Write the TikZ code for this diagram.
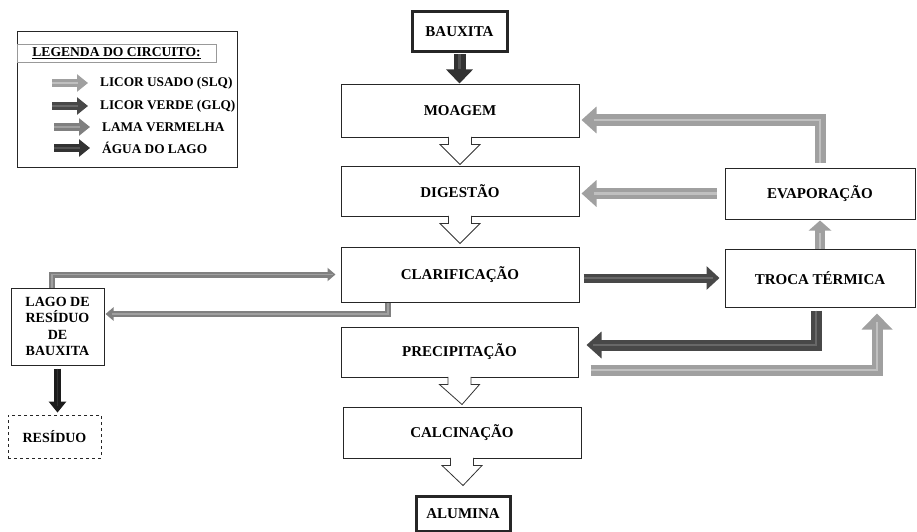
\documentclass[tikz,border=0pt]{standalone}
\usepackage{fontspec}
\setmainfont{Liberation Serif}
\usetikzlibrary{positioning,calc,arrows.meta}
\definecolor{usadoCor}{RGB}{160,160,160}
\definecolor{usadoLuz}{RGB}{192,192,192}
\definecolor{verdeCor}{RGB}{72,72,72}
\definecolor{verdeLuz}{RGB}{104,104,104}
\definecolor{lamaCor}{RGB}{128,128,128}
\definecolor{lamaLuz}{RGB}{160,160,160}
\definecolor{aguaCor}{RGB}{50,50,50}
\definecolor{aguaLuz}{RGB}{82,82,82}
\tikzset{
    caixa/.style={draw=black!85, line width=1pt, fill=white, inner sep=0pt, align=center, font=\bfseries\fontsize{15}{17}\selectfont},
    legtexto/.style={anchor=west, inner sep=0pt, font=\bfseries\fontsize{13.3}{15}\selectfont},
    tubo/.style 2 args={draw=#1, line join=miter, postaction={draw=#2, -, shorten >=1.3\pgflinewidth, line width=0.5\pgflinewidth}},
    grossa/.style={line width=11pt, -{Triangle[length=15pt,width=26pt]}},
    fina/.style={line width=6pt, -{Triangle[length=8pt,width=13pt]}},
    vazia/.style={draw=black!80, line width=0.8pt, fill=white, line join=miter}
}
\newcommand{\setavazia}[2]{%
    \draw[vazia] let \p1=(#1.south), \p2=(#2.north) in
        (\x1-11.5pt,\y1+0.6pt) -- (\x1-11.5pt,\y1-7pt) -- (\x1-20pt,\y1-7pt) -- (\x2,\y1-27pt)
        -- (\x1+20pt,\y1-7pt) -- (\x1+11.5pt,\y1-7pt) -- (\x1+11.5pt,\y1+0.6pt);
}

\begin{document}
\begin{tikzpicture}[x=1pt, y=-1pt]
    \useasboundingbox (0,0) rectangle (917,532);

    % legenda
    \node[draw=black!85, line width=1pt, minimum width=220pt, minimum height=135pt] (legenda) at (127,99.5) {};
    \node[draw=black!40, line width=0.6pt, minimum width=199pt, minimum height=18pt, inner sep=0pt,
          font=\bfseries\fontsize{13.6}{16}\selectfont] (titulo) at (116.5,53) {\underline{LEGENDA DO CIRCUITO:}};
    \node[legtexto] (l1) at (100,83) {LICOR USADO (SLQ)};
    \node[legtexto] (l2) at (100,106) {LICOR VERDE (GLQ)};
    \node[legtexto] (l3) at (102,127) {LAMA VERMELHA};
    \node[legtexto] (l4) at (102,148) {ÁGUA DO LAGO};
    \foreach \rot/\cor in {l1/usado, l2/verde, l3/lama, l4/agua}
        \draw[tubo={\cor Cor}{\cor Luz}, line width=8pt, -{Triangle[length=11pt,width=17pt]}]
            ([xshift=-48pt]\rot.west) -- ([xshift=-12pt]\rot.west);

    % processo
    \node[caixa, line width=3pt, minimum width=95pt, minimum height=40pt] (bauxita) at (459.5,32) {BAUXITA};
    \node[caixa, minimum width=238pt, minimum height=52pt] (moagem) at (460,111) {MOAGEM};
    \node[caixa, minimum width=238pt, minimum height=50pt] (digestao) at (460,191) {DIGESTÃO};
    \node[caixa, minimum width=238pt, minimum height=55pt] (clarif) at (460,274.5) {CLARIFICAÇÃO};
    \node[caixa, minimum width=237pt, minimum height=50pt] (precip) at (459.5,352) {PRECIPITAÇÃO};
    \node[caixa, minimum width=238pt, minimum height=51pt] (calcin) at (462,432.5) {CALCINAÇÃO};
    \node[caixa, line width=3pt, minimum width=94pt, minimum height=35pt] (alumina) at (463,513.5) {ALUMINA};
    \node[caixa, minimum width=190pt, minimum height=51pt] (evap) at (820,193.5) {EVAPORAÇÃO};
    \node[caixa, minimum width=190pt, minimum height=58pt] (troca) at (820,278) {TROCA TÉRMICA};
    \node[caixa, minimum width=93pt, minimum height=77pt, font=\bfseries\fontsize{14}{16.5}\selectfont] (lago) at (57.5,326.5) {LAGO DE\\RESÍDUO\\DE\\BAUXITA};
    \node[caixa, dashed, line width=0.8pt, minimum width=93pt, minimum height=43pt, font=\bfseries\fontsize{14}{16}\selectfont] (residuo) at (54.5,436.5) {RESÍDUO};

    \setavazia{moagem}{digestao}
    \setavazia{digestao}{clarif}
    \setavazia{precip}{calcin}
    \setavazia{calcin}{alumina}

    \draw[tubo={aguaCor}{aguaLuz}, line width=12pt, -{Triangle[length=14pt,width=26pt]}, shorten <=1pt, shorten >=1pt]
        (bauxita.south) -- (bauxita.south |- moagem.north);
    \draw[tubo={usadoCor}{usadoLuz}, grossa, shorten <=5pt, shorten >=2pt]
        (evap.north) |- ([yshift=-9pt]moagem.east);
    \draw[tubo={usadoCor}{usadoLuz}, grossa, shorten <=8pt, shorten >=2pt]
        (evap.west) -- (evap.west -| digestao.east);
    \draw[tubo={usadoCor}{usadoLuz}, line width=10pt, -{Triangle[length=10pt,width=22pt]}, shorten >=1pt]
        (troca.north) -- (evap.south);
    \draw[tubo={verdeCor}{verdeLuz}, line width=9pt, -{Triangle[length=13pt,width=23pt]}, shorten <=4pt, shorten >=5pt]
        (clarif.east |- troca.west) -- (troca.west);
    \draw[tubo={verdeCor}{verdeLuz}, grossa, shorten <=3pt, shorten >=8pt]
        ([xshift=-4pt]troca.south) |- ([yshift=7pt]precip.east);
    \draw[tubo={usadoCor}{usadoLuz}, grossa, -{Triangle[length=16pt,width=30pt]}, shorten >=6pt]
        ([xshift=12pt,yshift=-18pt]precip.east) -| ([xshift=57pt]troca.south);
    \draw[tubo={lamaCor}{lamaLuz}, fina, shorten >=5pt]
        ([xshift=-5.5pt]lago.north) |- (clarif.west);
    \draw[tubo={lamaCor}{lamaLuz}, fina, shorten >=1pt]
        ([xshift=-72pt]clarif.south) |- ([yshift=12.5pt]lago.east);
    \draw[tubo={aguaCor!55!black}{aguaCor}, line width=7pt, -{Triangle[length=11pt,width=17pt]}, shorten <=3pt, shorten >=2pt]
        (lago.south) -- (lago.south |- residuo.north);
\end{tikzpicture}
\end{document}
